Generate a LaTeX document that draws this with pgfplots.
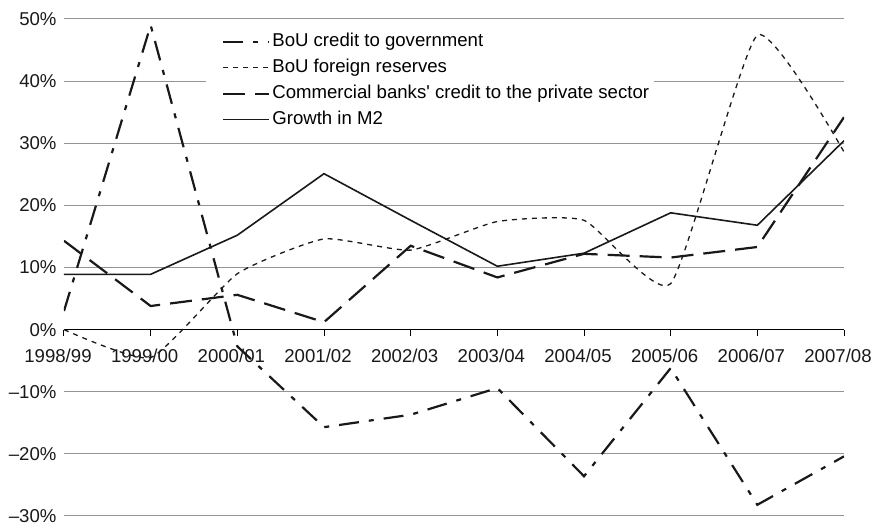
\documentclass[border=0pt]{standalone}
\usepackage{fontspec}
\setmainfont{Liberation Sans}
\usepackage{pgfplots}
\usepackage{pgfplotstable}
\pgfplotsset{compat=1.18}

\pgfplotstableread{
x gov res com m2
0 3.0 0.0 14.3 8.9
1 49.0 -4.5 3.8 8.9
2 -2.7 9.0 5.6 15.2
3 -15.7 14.6 1.2 25.1
4 -13.7 12.8 13.5 17.6
5 -9.4 17.4 8.4 10.2
6 -23.6 17.6 12.2 12.3
7 -6.2 7.4 11.6 18.8
8 -28.2 47.4 13.3 16.8
9 -20.4 28.6 34.2 30.4
}\datatable

\begin{document}
\begin{tikzpicture}
\begin{axis}[
  name=ax, scale only axis, width=780bp, height=497bp,
  xmin=0, xmax=9, ymin=-30, ymax=50,
  axis x line*=middle, axis y line*=left,
  hide obscured x ticks=false, hide obscured y ticks=false,
  y axis line style={draw=none},
  x axis line style={black, line width=1bp},
  xtick={0,...,9},
  xticklabels={1998/99,1999/00,2000/01,2001/02,2002/03,2003/04,2004/05,2005/06,2006/07,2007/08},
  ytick={-30,-20,-10,0,10,20,30,40,50},
  yticklabels={–30\%,–20\%,–10\%,0\%,10\%,20\%,30\%,40\%,50\%},
  ymajorgrids, major grid style={draw=black!42, line width=1bp},
  tick align=outside, major tick length=6bp,
  xtick style={black, line width=1bp},
  ytick style={draw=none},
  tick label style={font=\fontsize{18.6bp}{22bp}\selectfont, text=black!90},
  xticklabel style={yshift=-10bp, xshift=-6bp},
  yticklabel style={xshift=2bp},
  legend style={at={(rel axis cs:0.182,0.981)}, anchor=north west, draw=none, fill=white,
    inner xsep=5bp, inner ysep=4bp, font=\fontsize{18.6bp}{22bp}\selectfont,
    row sep=8bp, nodes={inner sep=0pt, text height=13.5bp, text depth=4.5bp},
    /tikz/every odd column/.append style={column sep=2bp}},
  legend cell align=left,
  legend image code/.code={\path (0bp,0bp); \draw[#1] (11bp,0bp) -- (57bp,0bp);},
]
\addplot[black!90, line width=2.2bp, dash pattern=on 20bp off 10bp on 5bp off 10bp] table[x=x,y=gov] {\datatable};
\addlegendentry{BoU credit to government}
\addplot[black!90, line width=1.3bp, dash pattern=on 5bp off 5bp, smooth, tension=0.3] table[x=x,y=res] {\datatable};
\addlegendentry{BoU foreign reserves}
\addplot[black!90, line width=2.2bp, dash pattern=on 22bp off 10bp] table[x=x,y=com] {\datatable};
\addlegendentry{Commercial banks\textquotesingle\ credit to the private sector}
\addplot[black!90, line width=1.6bp] table[x=x,y=m2] {\datatable};
\addlegendentry{Growth in M2}
\end{axis}
\pgfresetboundingbox
\path (ax.south west) ++(-64bp,-9bp) rectangle ([shift={(28bp,19bp)}]ax.north east);
\end{tikzpicture}
\end{document}
